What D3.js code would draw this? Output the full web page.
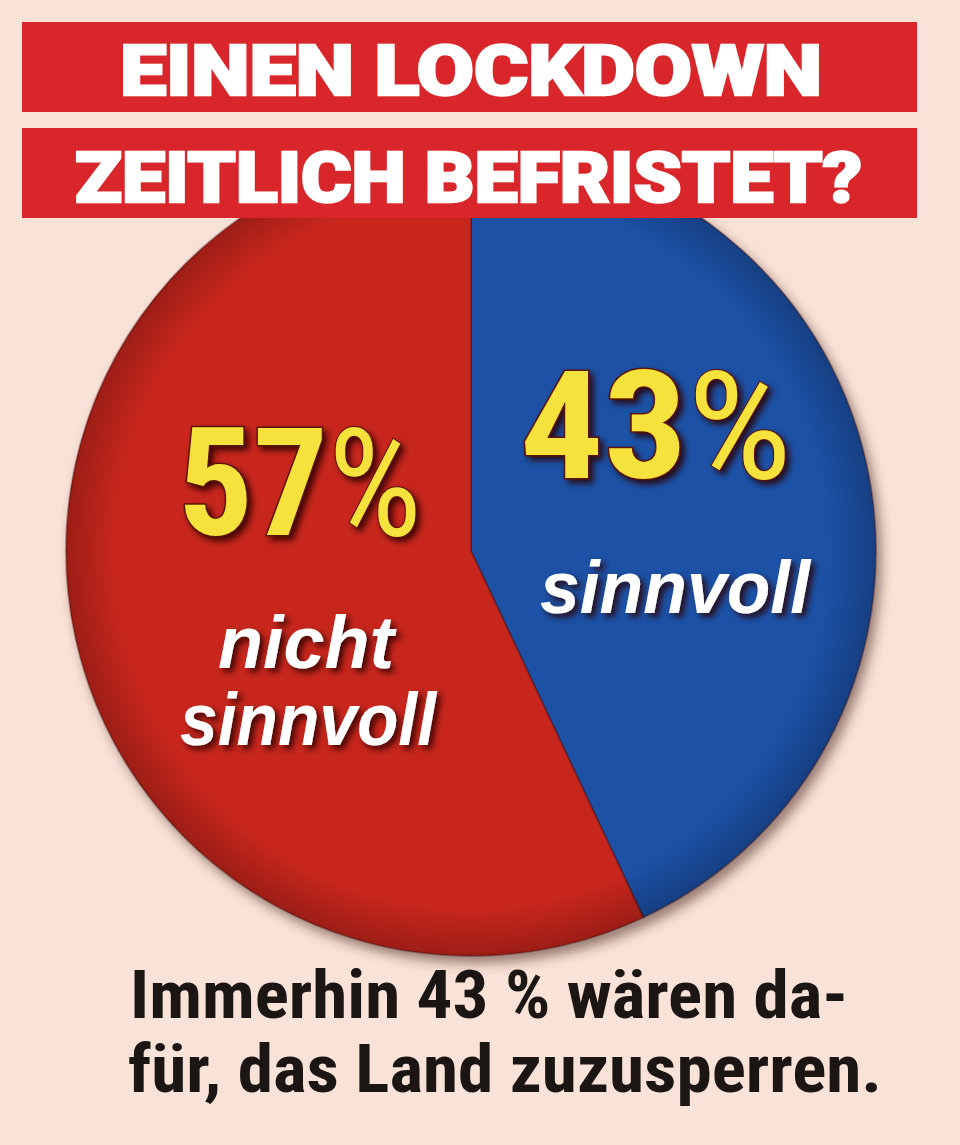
<!DOCTYPE html>
<html><head><meta charset="utf-8">
<script src="https://cdn.jsdelivr.net/npm/d3@7/dist/d3.min.js"></script>
<style>
html,body{margin:0;padding:0;background:#f9e2d7;}
svg{display:block;}
</style></head>
<body>
<script>
// ---- data ----
const categories = ["sinnvoll", "nicht sinnvoll"];
const values = [43, 57];
const valueLabels = ["43%", "57%"];
const titleLines = ["EINEN LOCKDOWN", "ZEITLICH BEFRISTET?"];
const captionLines = ["Immerhin 43 % wären da-", "für, das Land zuzusperren."];

const W = 960, H = 1145;
const svg = d3.select("body").append("svg").attr("width", W).attr("height", H);
svg.append("rect").attr("width", W).attr("height", H).attr("fill", "#f9e2d7");

const defs = svg.append("defs");
const sh = defs.append("filter").attr("id", "pieShadow").attr("x", "-10%").attr("y", "-10%").attr("width", "130%").attr("height", "130%");
sh.append("feDropShadow").attr("dx", 5).attr("dy", 7).attr("stdDeviation", 6)
  .attr("flood-color", "#4a2a20").attr("flood-opacity", 0.55);
const ts = defs.append("filter").attr("id", "txtShadow").attr("x", "-20%").attr("y", "-20%").attr("width", "150%").attr("height", "150%");
ts.append("feDropShadow").attr("dx", 4).attr("dy", 4).attr("stdDeviation", 3)
  .attr("flood-color", "#2a0505").attr("flood-opacity", 0.85);
const rim = defs.append("radialGradient").attr("id", "rim");
rim.append("stop").attr("offset", "88%").attr("stop-color", "#000").attr("stop-opacity", 0);
rim.append("stop").attr("offset", "100%").attr("stop-color", "#000").attr("stop-opacity", 0.22);

// ---- pie ----
const cx = 471, cy = 551, R = 405;
const color = d3.scaleOrdinal().domain(categories).range(["#1d51a6", "#c8261d"]);
const pie = d3.pie().sort(null).value(d => d.v);
const arcs = pie(categories.map((c, i) => ({c, v: values[i]})));
const arc = d3.arc().innerRadius(0).outerRadius(R);

const pg = svg.append("g").attr("transform", `translate(${cx},${cy})`);
pg.append("g").attr("filter", "url(#pieShadow)")
  .selectAll("path").data(arcs).join("path")
  .attr("d", arc).attr("fill", d => color(d.data.c))
  .attr("stroke", "rgba(70,10,10,0.35)").attr("stroke-width", 2);
pg.append("circle").attr("r", R).attr("fill", "url(#rim)");

// ---- labels ----
const numFont = "'Liberation Sans Narrow','Roboto Condensed','Arial Narrow','Liberation Sans',sans-serif";
function pct(x, y, w, label) {
  const t = svg.append("text").attr("x", x).attr("y", y)
    .attr("font-family", numFont).attr("font-size", 150).attr("font-weight", 700)
    .attr("fill", "#f6e23c").attr("stroke", "#5a1208").attr("stroke-width", 3)
    .attr("paint-order", "stroke").attr("filter", "url(#txtShadow)")
    .attr("textLength", w).attr("lengthAdjust", "spacingAndGlyphs");
  t.append("tspan").text(label.replace("%", ""));
  t.append("tspan").attr("font-weight", 400).attr("stroke-width", 2).text("%");
}
pct(178, 535, 244, valueLabels[1]);
pct(520, 478, 272, valueLabels[0]);

function word(x, y, w, s) {
  svg.append("text").attr("x", x).attr("y", y)
    .attr("font-family", "'Liberation Sans','Roboto',sans-serif")
    .attr("font-size", 74).attr("font-weight", 700).attr("font-style", "italic")
    .attr("fill", "#ffffff").attr("filter", "url(#txtShadow)")
    .attr("textLength", w).attr("lengthAdjust", "spacingAndGlyphs").text(s);
}
word(540, 613, 270, categories[0]);
const nicht = categories[1].split(" ");
word(218, 668, 176, nicht[0]);
word(180, 745, 256, nicht[1]);

// ---- title banners ----
const banners = [{y: 22, h: 90, base: 95, x0: 120, x1: 822}, {y: 128, h: 90, base: 202, x0: 75, x1: 862}];
banners.forEach((b, i) => {
  svg.append("rect").attr("x", 22).attr("y", b.y).attr("width", 895).attr("height", b.h).attr("fill", "#d8262a");
  svg.append("text").attr("x", b.x0).attr("y", b.base)
    .attr("font-family", "'Roboto','Liberation Sans',sans-serif").attr("font-weight", 900)
    .attr("font-size", 70).attr("fill", "#fff").attr("stroke", "#fff").attr("stroke-width", 2.5)
    .attr("textLength", b.x1 - b.x0).attr("lengthAdjust", "spacingAndGlyphs")
    .text(titleLines[i]);
});

// ---- caption ----
const caps = [{x0: 130, x1: 848, base: 1018}, {x0: 128, x1: 882, base: 1092}];
caps.forEach((c, i) => {
  svg.append("text").attr("x", c.x0).attr("y", c.base)
    .attr("font-family", numFont).attr("font-weight", 700)
    .attr("font-size", 66).attr("fill", "#1b1614")
    .attr("textLength", c.x1 - c.x0).attr("lengthAdjust", "spacingAndGlyphs")
    .text(captionLines[i]);
});
</script>
</body></html>
